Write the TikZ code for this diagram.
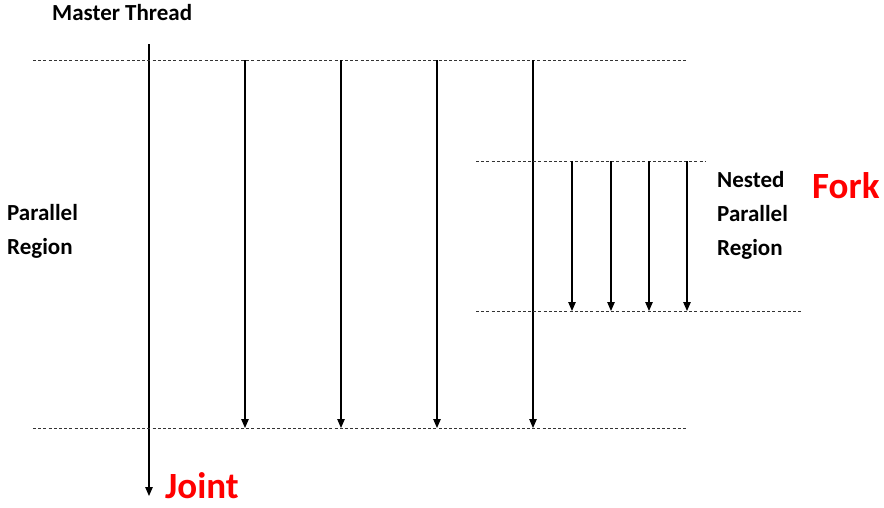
\documentclass[tikz,border=0pt]{standalone}
\usepackage{fontspec}
\setmainfont{Carlito}
\usetikzlibrary{arrows.meta}

\begin{document}
\begin{tikzpicture}[x=1pt, y=-1pt,
    boundary/.style={dash pattern=on 3pt off 2.2pt, black!80, line width=1pt},
    thread/.style={-{Triangle[length=9pt, width=7.5pt]}, line width=1.1pt},
    label/.style={anchor=base west, align=left, inner sep=0pt, font=\fontsize{23}{34}\selectfont\bfseries},
    keyword/.style={anchor=base west, inner sep=0pt, text=red, font=\fontsize{37}{40}\selectfont\bfseries}]

    \useasboundingbox (0,0) rectangle (884,507);

    % Master thread
    \node[label] (master) at (52,20) {Master Thread};
    \coordinate (mtop) at (149,44);
    \coordinate (mbot) at (149,496);
    \draw[thread] (mtop) -- (mbot);

    % Outer parallel region
    \coordinate (ptopL) at (33,60);
    \coordinate (ptopR) at (688,60);
    \coordinate (pbotL) at (33,428);
    \coordinate (pbotR) at (688,428);
    \draw[boundary] (ptopL) -- (ptopR);
    \draw[boundary] (pbotL) -- (pbotR);
    \foreach \x [count=\i] in {245,341,437,533} {
        \coordinate (f\i) at (\x,60);
        \coordinate (j\i) at (\x,428);
        \draw[thread] (f\i) -- (j\i);
    }
    \node[label] (region) at (7,254) {Parallel\\Region};

    % Nested parallel region
    \coordinate (ntopL) at (476,161);
    \coordinate (ntopR) at (705,161);
    \coordinate (nbotL) at (476,311);
    \coordinate (nbotR) at (803,311);
    \draw[boundary] (ntopL) -- (ntopR);
    \draw[boundary] (nbotL) -- (nbotR);
    \foreach \x [count=\i] in {572,611,649,687} {
        \coordinate (nf\i) at (\x,161);
        \coordinate (nj\i) at (\x,311);
        \draw[thread] (nf\i) -- (nj\i);
    }
    \node[label] (nested) at (717,255) {Nested\\Parallel\\Region};

    % Fork / Joint
    \node[keyword] (fork) at (812,198) {Fork};
    \node[keyword] (joint) at (165,498) {Joint};

\end{tikzpicture}
\end{document}
